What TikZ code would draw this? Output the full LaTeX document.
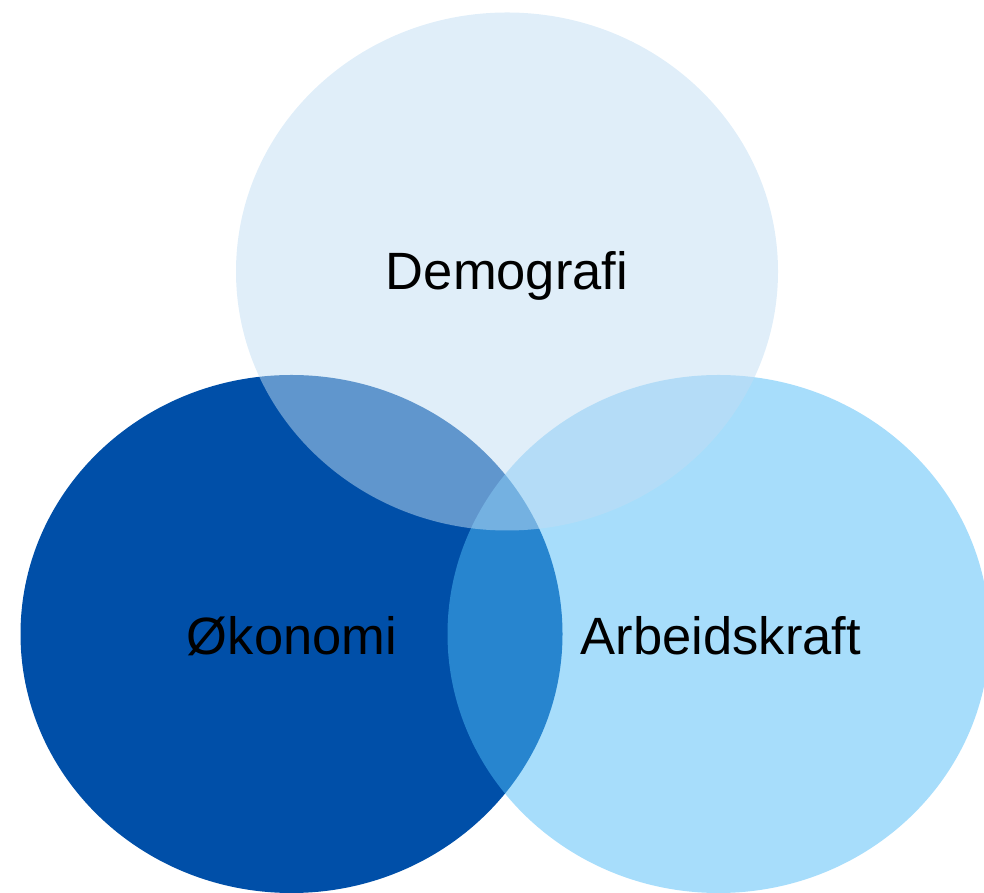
\documentclass[tikz,border=0pt]{standalone}
\usepackage{fontspec}
\setmainfont{Liberation Sans}
\usetikzlibrary{shapes.geometric}
\definecolor{okoblue}{HTML}{004FA8}
\definecolor{arbblue}{HTML}{4FBBF7}
\definecolor{demblue}{HTML}{C1DDF3}
\tikzset{
  venn/.style={ellipse, draw=none, inner sep=0pt, minimum width=542pt, minimum height=518pt},
  lbl/.style={anchor=base, text=black, inner sep=0pt, font=\fontsize{52.5}{62}\selectfont}
}
\begin{document}
\begin{tikzpicture}[x=1pt,y=1pt]
\useasboundingbox (0,0) rectangle (984,893);
\clip (0,0) rectangle (984,893);
\node[venn, fill=okoblue] (oko) at (291.5,259) {};
\node[venn, fill=arbblue, fill opacity=0.5] (arb) at (718.5,259) {};
\node[venn, fill=demblue, fill opacity=0.5] (dem) at (507,621.5) {};
\node[lbl] (demt) at (507,603) {Demografi};
\node[lbl] (okot) at (292,238) {Økonomi};
\node[lbl] (arbt) at (721,238) {Arbeidskraft};
\end{tikzpicture}
\end{document}
